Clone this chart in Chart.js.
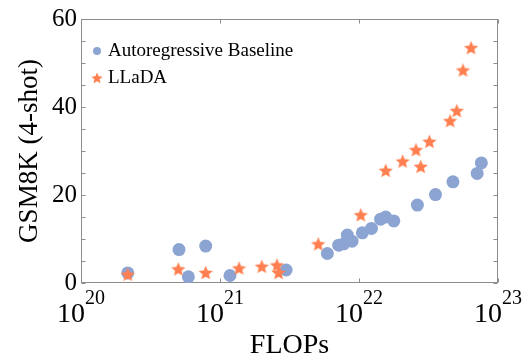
<!DOCTYPE html>
<html>
<head>
<meta charset="utf-8">
<script src="https://cdn.jsdelivr.net/npm/chart.js@4"></script>
<style>
  html, body { margin: 0; padding: 0; background: #fff; }
  #wrap { width: 522px; height: 360px; }
</style>
</head>
<body>
<div id="wrap"><canvas id="c" width="522" height="360"></canvas></div>
<script>
// Training compute (FLOPs) vs. GSM8K 4-shot accuracy
const arFlops = [2.17e20, 5.07e20, 5.92e20, 7.89e20, 1.18e21, 2.99e21, 5.92e21, 7.14e21, 7.76e21, 8.24e21, 8.91e21,
                 1.057e22, 1.23e22, 1.43e22, 1.556e22, 1.78e22, 2.63e22, 3.55e22, 4.74e22, 7.08e22, 7.59e22];
const arScores = [2.3, 7.6, 1.4, 8.4, 1.7, 2.95, 6.7, 8.6, 8.9, 10.9, 9.5,
                  11.4, 12.4, 14.5, 15.0, 14.1, 17.7, 20.1, 23.0, 24.9, 27.3];
const lladaFlops = [2.17e20, 5.01e20, 7.89e20, 1.37e21, 2.0e21, 2.57e21, 2.64e21, 5.09e21, 1.03e22,
                    1.556e22, 2.06e22, 2.57e22, 2.78e22, 3.21e22, 4.52e22, 5.05e22, 5.6e22, 6.4e22];
const lladaScores = [2.0, 3.2, 2.4, 3.4, 3.8, 4.1, 2.4, 8.9, 15.5,
                     25.6, 27.7, 30.3, 26.5, 32.2, 36.9, 39.2, 48.4, 53.5];
const seriesNames = ['Autoregressive Baseline', 'LLaDA'];
const xTickExponents = [20, 21, 22, 23];
const yTickValues = [0, 20, 40, 60];
const yMinorTickValues = [0, 5, 10, 15, 20, 25, 30, 35, 40, 45, 50, 55, 60];

const BLUE = 'rgb(140,164,210)';
const ORANGE = 'rgb(255,127,80)';
const FRAME = '#8c8c8c';
const SERIF = '"Liberation Serif", "Times New Roman", serif';

function starPath(ctx, cx, cy, rOuter, rInner) {
  ctx.beginPath();
  for (let i = 0; i < 10; i++) {
    const r = i % 2 === 0 ? rOuter : rInner;
    const a = -Math.PI / 2 + i * Math.PI / 5;
    const px = cx + r * Math.cos(a), py = cy + r * Math.sin(a);
    if (i === 0) ctx.moveTo(px, py); else ctx.lineTo(px, py);
  }
  ctx.closePath();
}

function makeStar(rOuter) {
  const size = Math.ceil(rOuter * 2 + 2);
  const cv = document.createElement('canvas');
  cv.width = size; cv.height = size;
  const g = cv.getContext('2d');
  g.fillStyle = ORANGE;
  starPath(g, size / 2, size / 2 + rOuter * 0.1, rOuter, rOuter * 0.45);
  g.fill();
  return cv;
}
const starImg = makeStar(7.5);

const toPoints = (xs, ys) => xs.map((x, i) => ({ x, y: ys[i] }));

// frame, inward tick marks, superscript x labels and the inset legend
const decorations = {
  id: 'decorations',
  beforeDatasetsDraw(chart) {
    const { ctx, chartArea: a, scales: { x, y } } = chart;
    ctx.save();
    ctx.strokeStyle = FRAME;
    ctx.lineWidth = 1;
    const L = Math.round(a.left) + 0.5, R = Math.round(a.right) - 0.5;
    const T = Math.round(a.top) + 0.5, B = Math.round(a.bottom) - 0.5;
    ctx.strokeRect(L, T, R - L, B - T);
    const tl = 4;
    ctx.beginPath();
    yMinorTickValues.forEach(v => {
      const py = Math.round(y.getPixelForValue(v)) + 0.5;
      ctx.moveTo(L, py); ctx.lineTo(L + tl, py);
      ctx.moveTo(R, py); ctx.lineTo(R - tl, py);
    });
    xTickExponents.forEach(e => {
      const px = Math.round(x.getPixelForValue(Math.pow(10, e))) + 0.5;
      ctx.moveTo(px, B); ctx.lineTo(px, B - tl);
      ctx.moveTo(px, T); ctx.lineTo(px, T + tl);
    });
    ctx.stroke();
    ctx.restore();
  },
  afterDraw(chart) {
    const { ctx, chartArea: a, scales: { x } } = chart;
    ctx.save();
    ctx.fillStyle = '#000';
    ctx.textBaseline = 'alphabetic';
    ctx.textAlign = 'left';
    const baseFont = '28px ' + SERIF, expFont = '20px ' + SERIF;
    xTickExponents.forEach(e => {
      const px = x.getPixelForValue(Math.pow(10, e));
      ctx.font = baseFont;
      const wb = ctx.measureText('10').width;
      ctx.font = expFont;
      const we = ctx.measureText(String(e)).width;
      const start = px - (wb + we) / 2;
      ctx.font = baseFont;
      ctx.fillText('10', start, 322);
      ctx.font = expFont;
      ctx.fillText(String(e), start + wb, 304);
    });

    // legend
    const lx = a.left + 16;
    ctx.font = '19px ' + SERIF;
    ctx.textBaseline = 'middle';
    ctx.fillStyle = BLUE;
    ctx.beginPath();
    ctx.arc(lx, 51, 4, 0, Math.PI * 2);
    ctx.fill();
    ctx.fillStyle = ORANGE;
    starPath(ctx, lx, 78.5, 6, 2.7);
    ctx.fill();
    ctx.fillStyle = '#000';
    ctx.fillText(seriesNames[0], lx + 11, 51);
    ctx.fillText(seriesNames[1], lx + 11, 78);
    ctx.restore();
  }
};

new Chart(document.getElementById('c'), {
  type: 'scatter',
  data: {
    datasets: [
      {
        label: seriesNames[0],
        data: toPoints(arFlops, arScores),
        pointStyle: 'circle',
        pointRadius: 6.5,
        pointHoverRadius: 6.5,
        backgroundColor: BLUE,
        borderWidth: 0,
        order: 1
      },
      {
        label: seriesNames[1],
        data: toPoints(lladaFlops, lladaScores),
        pointStyle: starImg,
        pointRadius: 8,
        backgroundColor: ORANGE,
        borderWidth: 0,
        order: 0
      }
    ]
  },
  options: {
    responsive: false,
    animation: false,
    devicePixelRatio: 1,
    layout: { padding: { top: 19, right: 24, left: 0, bottom: 0 } },
    plugins: { legend: { display: false }, tooltip: { enabled: false } },
    scales: {
      x: {
        type: 'logarithmic',
        min: 1e20,
        max: 1e23,
        grid: { display: false, drawTicks: false },
        border: { display: false },
        ticks: { display: false },
        title: {
          display: true,
          text: 'FLOPs',
          color: '#000',
          font: { family: SERIF, size: 28, lineHeight: 1 },
          padding: { top: 0, bottom: 0 }
        },
        afterFit(scale) { scale.height = 77; }
      },
      y: {
        min: 0,
        max: 60,
        grid: { display: false, drawTicks: false },
        border: { display: false },
        afterBuildTicks(scale) { scale.ticks = yTickValues.map(v => ({ value: v })); },
        ticks: {
          color: '#000',
          padding: 4,
          font: { family: SERIF, size: 25 }
        },
        title: {
          display: true,
          text: 'GSM8K (4-shot)',
          color: '#000',
          font: { family: SERIF, size: 27, lineHeight: 1 },
          padding: { top: 16, bottom: 0 }
        },
        afterFit(scale) { scale.width = 81; }
      }
    }
  },
  plugins: [decorations]
});
</script>
</body>
</html>
